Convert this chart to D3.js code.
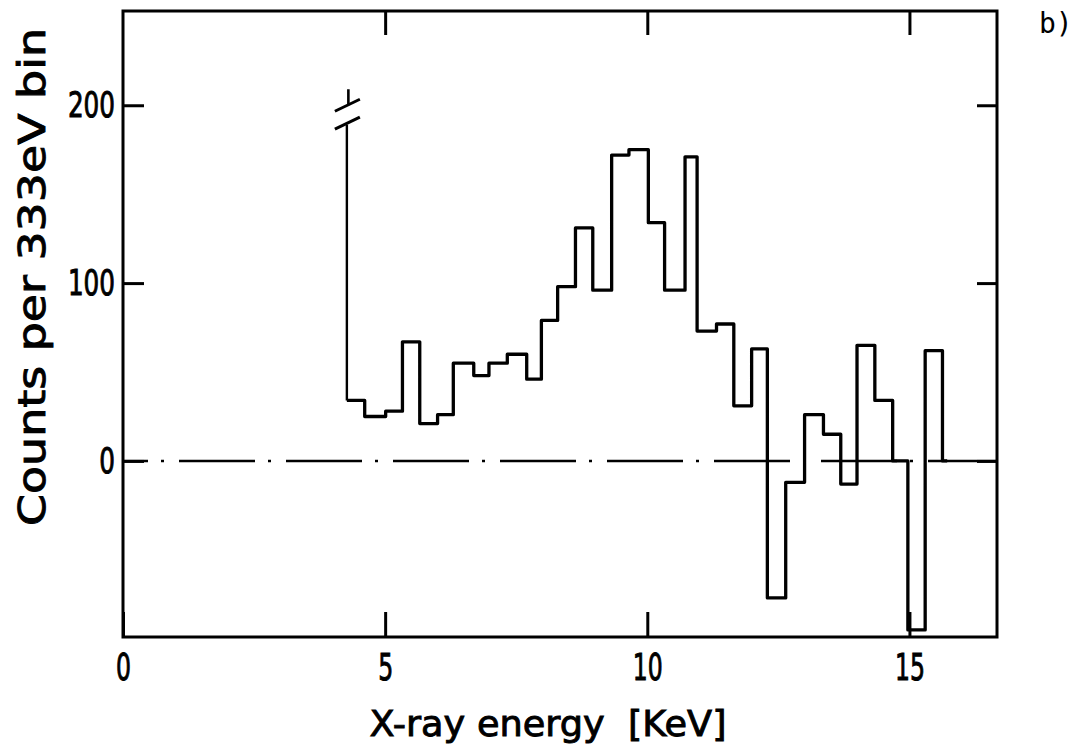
<!DOCTYPE html>
<html><head><meta charset="utf-8">
<script src="https://cdn.jsdelivr.net/npm/d3@7"></script>
<style>body{margin:0;background:#fff}svg{display:block}</style>
</head><body>
<svg id="c" width="1078" height="756"></svg>
<script>
// ---- data ----
const binEdges = [4.27, 4.61, 5.01, 5.33, 5.66, 6.00, 6.30, 6.69, 6.98, 7.33, 7.70, 7.98, 8.29, 8.63, 8.96, 9.32, 9.65, 10.02, 10.33, 10.72, 10.95, 11.32, 11.65, 11.99, 12.29, 12.64, 13.00, 13.36, 13.69, 14.00, 14.34, 14.68, 14.97, 15.30, 15.63];
const counts = [34, 25, 28, 67, 21, 26, 55, 48, 55, 60, 46, 79, 98, 131, 96, 172, 175, 134, 96, 171, 73, 77, 31, 63, -77, -12, 26, 15, -13, 65, 34, 0, -95, 62];
const tailEnd = 15.72;
const breakCut = 189;      // tall first edge is cut here
const breakSlashes = [190, 200];
const breakStubTop = 209;
const xTicks = [0, 5, 10, 15];
const xTickLabels = ["0", "5", "10", "15"];
const xFrameTicks = [5, 10, 15];
const yTicks = [0, 100, 200];
const yTickLabels = ["0", "100", "200"];
const xTitle = "X-ray energy  [KeV]";
const yTitle = "Counts per 333eV bin";
const panelLabel = "b)";

// ---- drawing ----
const FONT = "'DejaVu Sans', 'Liberation Sans', sans-serif";
const svg = d3.select("#c");
const x = d3.scaleLinear().domain([0, 16.67]).range([123, 997]);
const y = d3.scaleLinear().domain([-99, 253]).range([637, 11]);

// zero reference line (dash-dot)
svg.append("line")
  .attr("x1", x(0)).attr("x2", x(16.67))
  .attr("y1", y(0)).attr("y2", y(0))
  .attr("stroke", "#000").attr("stroke-width", 2.4)
  .attr("stroke-dasharray", "76 13 3 15").attr("stroke-dashoffset", 51);

function styleAxis(g, fontSize, charW) {
  g.select(".domain").remove();
  g.selectAll(".tick line").attr("stroke", "#000").attr("stroke-width", 3);
  g.selectAll(".tick text")
    .attr("fill", "#000")
    .attr("stroke", "#000").attr("stroke-width", 1)
    .style("font-family", FONT)
    .style("font-size", fontSize + "px")
    .attr("textLength", function () { return this.textContent.length * charW; })
    .attr("lengthAdjust", "spacingAndGlyphs");
}

// left axis
svg.append("g").attr("transform", `translate(${x(0)},0)`)
  .call(d3.axisLeft(y).tickValues(yTicks).tickSize(-21).tickSizeOuter(0).tickPadding(8)
    .tickFormat((d, i) => yTickLabels[i]))
  .call(g => styleAxis(g, 36, 15.7));

// right axis (ticks only)
svg.append("g").attr("transform", `translate(${x(16.67)},0)`)
  .call(d3.axisRight(y).tickValues(yTicks).tickSize(-20).tickSizeOuter(0).tickFormat(""))
  .call(g => styleAxis(g, 36, 15.7));

// top axis (ticks only)
svg.append("g").attr("transform", `translate(0,${y(253)})`)
  .call(d3.axisTop(x).tickValues(xFrameTicks).tickSize(-24).tickSizeOuter(0).tickFormat(""))
  .call(g => styleAxis(g, 36, 15));

// bottom axis
svg.append("g").attr("transform", `translate(0,${y(-99)})`)
  .call(d3.axisBottom(x).tickValues(xTicks).tickSize(-25).tickSizeOuter(0).tickPadding(17)
    .tickFormat((d, i) => xTickLabels[i]))
  .call(g => styleAxis(g, 37, 15));

// frame
svg.append("rect")
  .attr("x", x(0)).attr("y", y(253))
  .attr("width", x(16.67) - x(0)).attr("height", y(-99) - y(253))
  .attr("fill", "none").attr("stroke", "#000").attr("stroke-width", 3);

// histogram
const pts = counts.map((c, i) => [binEdges[i], c]);
pts.push([binEdges[binEdges.length - 1], counts[counts.length - 1]]);
pts.push([binEdges[binEdges.length - 1], 0]);
pts.push([tailEnd, 0]);
const line = d3.line().x(d => x(d[0])).y(d => y(d[1])).curve(d3.curveStepAfter);
svg.append("path").attr("d", line(pts))
  .attr("fill", "none").attr("stroke", "#000").attr("stroke-width", 3.3)
  .attr("stroke-linejoin", "round");

// tall first edge with axis break
const x0 = x(binEdges[0]);
svg.append("line")
  .attr("x1", x0).attr("x2", x0)
  .attr("y1", y(counts[0])).attr("y2", y(breakCut))
  .attr("stroke", "#000").attr("stroke-width", 2.4);
breakSlashes.forEach(v => {
  svg.append("line")
    .attr("x1", x0 - 12).attr("y1", y(v) + 6)
    .attr("x2", x0 + 13).attr("y2", y(v) - 6)
    .attr("stroke", "#000").attr("stroke-width", 3);
});
svg.append("line")
  .attr("x1", x0 + 1.5).attr("x2", x0 + 1.5)
  .attr("y1", y(breakSlashes[1])).attr("y2", y(breakStubTop))
  .attr("stroke", "#000").attr("stroke-width", 2.6);

// titles
svg.append("text")
  .attr("x", 548).attr("y", 736)
  .attr("text-anchor", "middle")
  .attr("textLength", 357).attr("lengthAdjust", "spacingAndGlyphs")
  .style("font-family", FONT).style("font-size", "35px").attr("fill", "#000")
  .attr("stroke", "#000").attr("stroke-width", 0.9)
  .style("white-space", "pre")
  .text(xTitle);

svg.append("text")
  .attr("transform", "translate(45,277) rotate(-90)")
  .attr("text-anchor", "middle")
  .attr("textLength", 498).attr("lengthAdjust", "spacingAndGlyphs")
  .style("font-family", FONT).style("font-size", "37px").attr("fill", "#000")
  .attr("stroke", "#000").attr("stroke-width", 0.9)
  .text(yTitle);

svg.append("text")
  .attr("x", 1039).attr("y", 33)
  .style("font-family", "'DejaVu Sans Mono', monospace").style("font-size", "28px")
  .attr("fill", "#000")
  .text(panelLabel);
</script>
</body></html>
